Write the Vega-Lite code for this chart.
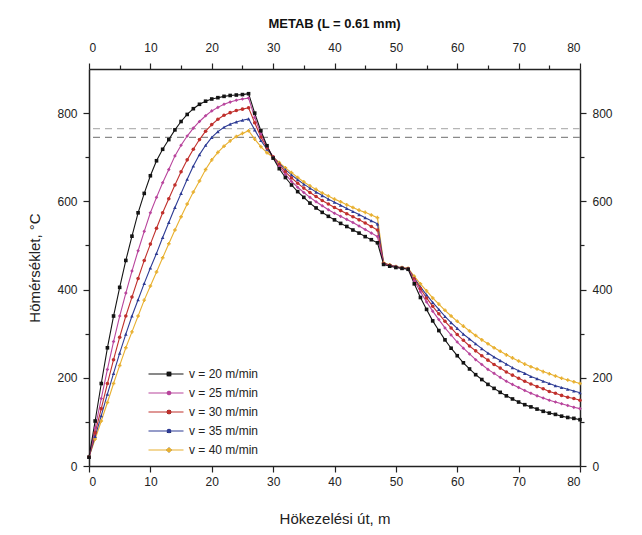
{
"$schema": "https://vega.github.io/schema/vega-lite/v6.json",
"width": 491, "height": 397,
"autosize": {"type": "none"},
"padding": {"left": 89, "top": 69, "right": 62, "bottom": 69},
"background": "white",
"config": {
  "view": {"stroke": null},
  "font": "Liberation Sans",
  "axis": {"grid": false, "domainColor": "#222", "domainWidth": 1.5, "tickColor": "#222", "tickWidth": 1.2, "labelColor": "#222", "labelFontSize": 12, "titleColor": "#222", "titleFontWeight": "normal", "titleFontSize": 15, "labelFont": "Liberation Sans", "titleFont": "Liberation Sans"},
  "legend": {"labelFont": "Liberation Sans", "labelFontSize": 12, "labelColor": "#222"}
},
"title": {"text": "METAB (L = 0.61 mm)", "fontSize": 13, "fontWeight": "bold", "anchor": "middle", "offset": 10, "color": "#111", "font": "Liberation Sans"},
"datasets": {
"curves": [
{"s":"40","x":0,"t":20},{"s":"40","x":1,"t":61},{"s":"40","x":2,"t":102},{"s":"40","x":3,"t":144},{"s":"40","x":4,"t":187},{"s":"40","x":5,"t":228},{"s":"40","x":6,"t":268},{"s":"40","x":7,"t":304},{"s":"40","x":8,"t":340},{"s":"40","x":9,"t":376},{"s":"40","x":10,"t":408},{"s":"40","x":11,"t":440},{"s":"40","x":12,"t":472},{"s":"40","x":13,"t":504},{"s":"40","x":14,"t":535},{"s":"40","x":15,"t":565},{"s":"40","x":16,"t":594},{"s":"40","x":17,"t":621},{"s":"40","x":18,"t":646},{"s":"40","x":19,"t":672},{"s":"40","x":20,"t":694},{"s":"40","x":21,"t":711},{"s":"40","x":22,"t":725},{"s":"40","x":23,"t":737},{"s":"40","x":24,"t":747},{"s":"40","x":25,"t":754},{"s":"40","x":26,"t":760},
{"s":"40","x":27,"t":741},{"s":"40","x":28,"t":724},{"s":"40","x":29,"t":710},{"s":"40","x":30,"t":700},{"s":"40","x":31,"t":688},{"s":"40","x":32,"t":676},{"s":"40","x":33,"t":665},{"s":"40","x":34,"t":654},{"s":"40","x":35,"t":644},{"s":"40","x":36,"t":635},{"s":"40","x":37,"t":627},{"s":"40","x":38,"t":619},{"s":"40","x":39,"t":612},{"s":"40","x":40,"t":605},{"s":"40","x":41,"t":599},{"s":"40","x":42,"t":592},{"s":"40","x":43,"t":586},{"s":"40","x":44,"t":580},{"s":"40","x":45,"t":575},{"s":"40","x":46,"t":569},{"s":"40","x":47,"t":563},
{"s":"40","x":48,"t":461},{"s":"40","x":49,"t":456},{"s":"40","x":50,"t":452},{"s":"40","x":51,"t":450},{"s":"40","x":52,"t":448},
{"s":"40","x":53,"t":430},{"s":"40","x":54,"t":413},{"s":"40","x":55,"t":397},{"s":"40","x":56,"t":381},{"s":"40","x":57,"t":367},{"s":"40","x":58,"t":353},{"s":"40","x":59,"t":340},{"s":"40","x":60,"t":328},{"s":"40","x":61,"t":317},{"s":"40","x":62,"t":306},{"s":"40","x":63,"t":296},{"s":"40","x":64,"t":286},{"s":"40","x":65,"t":277},{"s":"40","x":66,"t":268},{"s":"40","x":67,"t":260},{"s":"40","x":68,"t":252},{"s":"40","x":69,"t":245},{"s":"40","x":70,"t":238},{"s":"40","x":71,"t":231},{"s":"40","x":72,"t":225},{"s":"40","x":73,"t":220},{"s":"40","x":74,"t":214},{"s":"40","x":75,"t":209},{"s":"40","x":76,"t":204},{"s":"40","x":77,"t":199},{"s":"40","x":78,"t":195},{"s":"40","x":79,"t":191},{"s":"40","x":80,"t":187},

{"s":"35","x":0,"t":20},{"s":"35","x":1,"t":67},{"s":"35","x":2,"t":114},{"s":"35","x":3,"t":163},{"s":"35","x":4,"t":210},{"s":"35","x":5,"t":256},{"s":"35","x":6,"t":299},{"s":"35","x":7,"t":340},{"s":"35","x":8,"t":377},{"s":"35","x":9,"t":414},{"s":"35","x":10,"t":449},{"s":"35","x":11,"t":482},{"s":"35","x":12,"t":518},{"s":"35","x":13,"t":552},{"s":"35","x":14,"t":586},{"s":"35","x":15,"t":618},{"s":"35","x":16,"t":650},{"s":"35","x":17,"t":680},{"s":"35","x":18,"t":706},{"s":"35","x":19,"t":727},{"s":"35","x":20,"t":745},{"s":"35","x":21,"t":758},{"s":"35","x":22,"t":768},{"s":"35","x":23,"t":775},{"s":"35","x":24,"t":780},{"s":"35","x":25,"t":784},{"s":"35","x":26,"t":787},
{"s":"35","x":27,"t":762},{"s":"35","x":28,"t":738},{"s":"35","x":29,"t":718},{"s":"35","x":30,"t":701},{"s":"35","x":31,"t":686},{"s":"35","x":32,"t":672},{"s":"35","x":33,"t":660},{"s":"35","x":34,"t":649},{"s":"35","x":35,"t":639},{"s":"35","x":36,"t":630},{"s":"35","x":37,"t":621},{"s":"35","x":38,"t":613},{"s":"35","x":39,"t":605},{"s":"35","x":40,"t":598},{"s":"35","x":41,"t":591},{"s":"35","x":42,"t":584},{"s":"35","x":43,"t":577},{"s":"35","x":44,"t":570},{"s":"35","x":45,"t":563},{"s":"35","x":46,"t":556},{"s":"35","x":47,"t":549},
{"s":"35","x":48,"t":460},{"s":"35","x":49,"t":455},{"s":"35","x":50,"t":452},{"s":"35","x":51,"t":449},{"s":"35","x":52,"t":447},
{"s":"35","x":53,"t":426},{"s":"35","x":54,"t":406},{"s":"35","x":55,"t":388},{"s":"35","x":56,"t":371},{"s":"35","x":57,"t":355},{"s":"35","x":58,"t":339},{"s":"35","x":59,"t":325},{"s":"35","x":60,"t":312},{"s":"35","x":61,"t":299},{"s":"35","x":62,"t":288},{"s":"35","x":63,"t":277},{"s":"35","x":64,"t":266},{"s":"35","x":65,"t":256},{"s":"35","x":66,"t":247},{"s":"35","x":67,"t":239},{"s":"35","x":68,"t":231},{"s":"35","x":69,"t":223},{"s":"35","x":70,"t":216},{"s":"35","x":71,"t":210},{"s":"35","x":72,"t":203},{"s":"35","x":73,"t":198},{"s":"35","x":74,"t":192},{"s":"35","x":75,"t":187},{"s":"35","x":76,"t":182},{"s":"35","x":77,"t":178},{"s":"35","x":78,"t":174},{"s":"35","x":79,"t":170},{"s":"35","x":80,"t":166},

{"s":"30","x":0,"t":20},{"s":"30","x":1,"t":75},{"s":"30","x":2,"t":130},{"s":"30","x":3,"t":187},{"s":"30","x":4,"t":241},{"s":"30","x":5,"t":292},{"s":"30","x":6,"t":340},{"s":"30","x":7,"t":383},{"s":"30","x":8,"t":425},{"s":"30","x":9,"t":466},{"s":"30","x":10,"t":503},{"s":"30","x":11,"t":539},{"s":"30","x":12,"t":574},{"s":"30","x":13,"t":606},{"s":"30","x":14,"t":637},{"s":"30","x":15,"t":667},{"s":"30","x":16,"t":694},{"s":"30","x":17,"t":718},{"s":"30","x":18,"t":740},{"s":"30","x":19,"t":759},{"s":"30","x":20,"t":774},{"s":"30","x":21,"t":786},{"s":"30","x":22,"t":795},{"s":"30","x":23,"t":801},{"s":"30","x":24,"t":806},{"s":"30","x":25,"t":809},{"s":"30","x":26,"t":812},
{"s":"30","x":27,"t":778},{"s":"30","x":28,"t":746},{"s":"30","x":29,"t":721},{"s":"30","x":30,"t":701},{"s":"30","x":31,"t":683},{"s":"30","x":32,"t":667},{"s":"30","x":33,"t":653},{"s":"30","x":34,"t":641},{"s":"30","x":35,"t":630},{"s":"30","x":36,"t":620},{"s":"30","x":37,"t":611},{"s":"30","x":38,"t":602},{"s":"30","x":39,"t":594},{"s":"30","x":40,"t":586},{"s":"30","x":41,"t":579},{"s":"30","x":42,"t":572},{"s":"30","x":43,"t":565},{"s":"30","x":44,"t":558},{"s":"30","x":45,"t":551},{"s":"30","x":46,"t":543},{"s":"30","x":47,"t":535},
{"s":"30","x":48,"t":459},{"s":"30","x":49,"t":455},{"s":"30","x":50,"t":451},{"s":"30","x":51,"t":449},{"s":"30","x":52,"t":447},
{"s":"30","x":53,"t":424},{"s":"30","x":54,"t":402},{"s":"30","x":55,"t":381},{"s":"30","x":56,"t":362},{"s":"30","x":57,"t":345},{"s":"30","x":58,"t":328},{"s":"30","x":59,"t":313},{"s":"30","x":60,"t":298},{"s":"30","x":61,"t":285},{"s":"30","x":62,"t":272},{"s":"30","x":63,"t":261},{"s":"30","x":64,"t":250},{"s":"30","x":65,"t":240},{"s":"30","x":66,"t":230},{"s":"30","x":67,"t":222},{"s":"30","x":68,"t":213},{"s":"30","x":69,"t":206},{"s":"30","x":70,"t":199},{"s":"30","x":71,"t":192},{"s":"30","x":72,"t":186},{"s":"30","x":73,"t":180},{"s":"30","x":74,"t":175},{"s":"30","x":75,"t":169},{"s":"30","x":76,"t":165},{"s":"30","x":77,"t":160},{"s":"30","x":78,"t":156},{"s":"30","x":79,"t":153},{"s":"30","x":80,"t":149},

{"s":"25","x":0,"t":20},{"s":"25","x":1,"t":86},{"s":"25","x":2,"t":153},{"s":"25","x":3,"t":219},{"s":"25","x":4,"t":282},{"s":"25","x":5,"t":340},{"s":"25","x":6,"t":392},{"s":"25","x":7,"t":442},{"s":"25","x":8,"t":488},{"s":"25","x":9,"t":532},{"s":"25","x":10,"t":574},{"s":"25","x":11,"t":609},{"s":"25","x":12,"t":642},{"s":"25","x":13,"t":672},{"s":"25","x":14,"t":703},{"s":"25","x":15,"t":727},{"s":"25","x":16,"t":748},{"s":"25","x":17,"t":766},{"s":"25","x":18,"t":781},{"s":"25","x":19,"t":794},{"s":"25","x":20,"t":805},{"s":"25","x":21,"t":813},{"s":"25","x":22,"t":820},{"s":"25","x":23,"t":825},{"s":"25","x":24,"t":829},{"s":"25","x":25,"t":832},{"s":"25","x":26,"t":834},
{"s":"25","x":27,"t":790},{"s":"25","x":28,"t":753},{"s":"25","x":29,"t":724},{"s":"25","x":30,"t":700},{"s":"25","x":31,"t":679},{"s":"25","x":32,"t":661},{"s":"25","x":33,"t":645},{"s":"25","x":34,"t":632},{"s":"25","x":35,"t":620},{"s":"25","x":36,"t":609},{"s":"25","x":37,"t":599},{"s":"25","x":38,"t":590},{"s":"25","x":39,"t":581},{"s":"25","x":40,"t":573},{"s":"25","x":41,"t":566},{"s":"25","x":42,"t":559},{"s":"25","x":43,"t":552},{"s":"25","x":44,"t":544},{"s":"25","x":45,"t":536},{"s":"25","x":46,"t":528},{"s":"25","x":47,"t":520},
{"s":"25","x":48,"t":458},{"s":"25","x":49,"t":454},{"s":"25","x":50,"t":451},{"s":"25","x":51,"t":449},{"s":"25","x":52,"t":447},
{"s":"25","x":53,"t":420},{"s":"25","x":54,"t":395},{"s":"25","x":55,"t":372},{"s":"25","x":56,"t":351},{"s":"25","x":57,"t":332},{"s":"25","x":58,"t":313},{"s":"25","x":59,"t":297},{"s":"25","x":60,"t":281},{"s":"25","x":61,"t":267},{"s":"25","x":62,"t":254},{"s":"25","x":63,"t":241},{"s":"25","x":64,"t":230},{"s":"25","x":65,"t":219},{"s":"25","x":66,"t":210},{"s":"25","x":67,"t":201},{"s":"25","x":68,"t":192},{"s":"25","x":69,"t":185},{"s":"25","x":70,"t":178},{"s":"25","x":71,"t":171},{"s":"25","x":72,"t":165},{"s":"25","x":73,"t":159},{"s":"25","x":74,"t":154},{"s":"25","x":75,"t":149},{"s":"25","x":76,"t":145},{"s":"25","x":77,"t":141},{"s":"25","x":78,"t":137},{"s":"25","x":79,"t":133},{"s":"25","x":80,"t":130},

{"s":"20","x":0,"t":20},{"s":"20","x":1,"t":102},{"s":"20","x":2,"t":187},{"s":"20","x":3,"t":268},{"s":"20","x":4,"t":340},{"s":"20","x":5,"t":405},{"s":"20","x":6,"t":466},{"s":"20","x":7,"t":521},{"s":"20","x":8,"t":574},{"s":"20","x":9,"t":618},{"s":"20","x":10,"t":658},{"s":"20","x":11,"t":692},{"s":"20","x":12,"t":718},{"s":"20","x":13,"t":740},{"s":"20","x":14,"t":762},{"s":"20","x":15,"t":781},{"s":"20","x":16,"t":797},{"s":"20","x":17,"t":810},{"s":"20","x":18,"t":820},{"s":"20","x":19,"t":827},{"s":"20","x":20,"t":832},{"s":"20","x":21,"t":835},{"s":"20","x":22,"t":838},{"s":"20","x":23,"t":840},{"s":"20","x":24,"t":841},{"s":"20","x":25,"t":842},{"s":"20","x":26,"t":844},
{"s":"20","x":27,"t":800},{"s":"20","x":28,"t":760},{"s":"20","x":29,"t":726},{"s":"20","x":30,"t":698},{"s":"20","x":31,"t":674},{"s":"20","x":32,"t":654},{"s":"20","x":33,"t":637},{"s":"20","x":34,"t":622},{"s":"20","x":35,"t":609},{"s":"20","x":36,"t":596},{"s":"20","x":37,"t":585},{"s":"20","x":38,"t":575},{"s":"20","x":39,"t":566},{"s":"20","x":40,"t":558},{"s":"20","x":41,"t":550},{"s":"20","x":42,"t":543},{"s":"20","x":43,"t":535},{"s":"20","x":44,"t":528},{"s":"20","x":45,"t":520},{"s":"20","x":46,"t":513},{"s":"20","x":47,"t":506},
{"s":"20","x":48,"t":457},{"s":"20","x":49,"t":453},{"s":"20","x":50,"t":450},{"s":"20","x":51,"t":448},{"s":"20","x":52,"t":446},
{"s":"20","x":53,"t":413},{"s":"20","x":54,"t":382},{"s":"20","x":55,"t":355},{"s":"20","x":56,"t":329},{"s":"20","x":57,"t":307},{"s":"20","x":58,"t":286},{"s":"20","x":59,"t":267},{"s":"20","x":60,"t":250},{"s":"20","x":61,"t":234},{"s":"20","x":62,"t":220},{"s":"20","x":63,"t":207},{"s":"20","x":64,"t":196},{"s":"20","x":65,"t":185},{"s":"20","x":66,"t":176},{"s":"20","x":67,"t":167},{"s":"20","x":68,"t":159},{"s":"20","x":69,"t":152},{"s":"20","x":70,"t":145},{"s":"20","x":71,"t":139},{"s":"20","x":72,"t":134},{"s":"20","x":73,"t":129},{"s":"20","x":74,"t":124},{"s":"20","x":75,"t":120},{"s":"20","x":76,"t":117},{"s":"20","x":77,"t":113},{"s":"20","x":78,"t":110},{"s":"20","x":79,"t":108},{"s":"20","x":80,"t":105}
]
},
"data": {"name": "curves"},
"layer": [
  {
    "layer": [
      {
        "data": {"values": [{"t": 765}]},
        "mark": {"type": "rule", "color": "#b5b5b5", "strokeDash": [7, 5], "strokeWidth": 1.2},
        "encoding": {"y": {"field": "t", "type": "quantitative"}}
      },
      {
        "data": {"values": [{"t": 745}]},
        "mark": {"type": "rule", "color": "#8a8a8a", "strokeDash": [7, 5], "strokeWidth": 1.2},
        "encoding": {"y": {"field": "t", "type": "quantitative"}}
      },
      {
        "mark": {"type": "line", "strokeWidth": 1.1},
        "encoding": {
          "x": {"field": "x", "type": "quantitative", "scale": {"domain": [0, 80], "nice": false},
                "axis": {"orient": "bottom", "title": "Hökezelési út, m", "values": [0,5,10,15,20,25,30,35,40,45,50,55,60,65,70,75,80],
                         "labelExpr": "datum.value % 10 === 0 ? datum.label : ''", "tickSize": {"condition": {"test": "datum.value % 10 === 0", "value": 6}, "value": 4}, "labelPadding": 4, "titlePadding": 24}},
          "y": {"field": "t", "type": "quantitative", "scale": {"domain": [0, 900], "nice": false},
                "axis": {"orient": "left", "title": "Hömérséklet, °C", "values": [0,100,200,300,400,500,600,700,800],
                         "labelExpr": "datum.value % 200 === 0 ? datum.label : ''", "tickSize": {"condition": {"test": "datum.value % 200 === 0", "value": 6}, "value": 4}, "labelPadding": 6, "titlePadding": 14}},
          "color": {"field": "s", "type": "nominal",
                    "scale": {"domain": ["20","25","30","35","40"], "range": ["#141414", "#b8449c", "#c0302c", "#2d3b94", "#e8b030"]},
                    "legend": {"title": null, "orient": "none", "legendX": 71, "legendY": 299, "padding": 0, "symbolType": "M-3.5,0H3.5", "symbolSize": 100, "symbolStrokeWidth": 1.1, "labelOffset": 17, "rowPadding": 7, "labelExpr": "'v = ' + datum.label + ' m/min'"}}
        }
      },
      {
        "mark": {"type": "point", "filled": true, "opacity": 1, "size": 13},
        "encoding": {
          "x": {"field": "x", "type": "quantitative"},
          "y": {"field": "t", "type": "quantitative"},
          "color": {"field": "s", "type": "nominal",
                    "legend": {"title": null, "orient": "none", "legendX": 74, "legendY": 299, "padding": 0, "symbolSize": 22, "rowPadding": 7, "labelOffset": 17, "labelExpr": "''"}},
          "shape": {"field": "s", "type": "nominal",
                    "scale": {"domain": ["20","25","30","35","40"], "range": ["square", "diamond", "circle", "triangle-up", "cross"]},
                    "legend": {"title": null, "orient": "none", "legendX": 74, "legendY": 299, "padding": 0, "symbolSize": 22, "rowPadding": 7, "labelOffset": 17, "labelExpr": "''"}}
        }
      }
    ],
    "resolve": {"legend": {"color": "independent"}}
  },
  {
    "mark": {"type": "point", "opacity": 0},
    "encoding": {
      "x": {"field": "x", "type": "quantitative", "scale": {"domain": [0, 80], "nice": false},
            "axis": {"orient": "top", "title": null, "values": [0,5,10,15,20,25,30,35,40,45,50,55,60,65,70,75,80],
                     "labelExpr": "datum.value % 10 === 0 ? datum.label : ''", "tickSize": {"condition": {"test": "datum.value % 10 === 0", "value": 6}, "value": 4}, "labelPadding": 9}},
      "y": {"field": "t", "type": "quantitative", "scale": {"domain": [0, 900], "nice": false},
            "axis": {"orient": "right", "title": null, "values": [0,100,200,300,400,500,600,700,800],
                     "labelExpr": "datum.value % 200 === 0 ? datum.label : ''", "tickSize": {"condition": {"test": "datum.value % 200 === 0", "value": 6}, "value": 4}, "labelPadding": 6}}
    }
  }
],
"resolve": {"scale": {"x": "independent", "y": "independent"}}
}
